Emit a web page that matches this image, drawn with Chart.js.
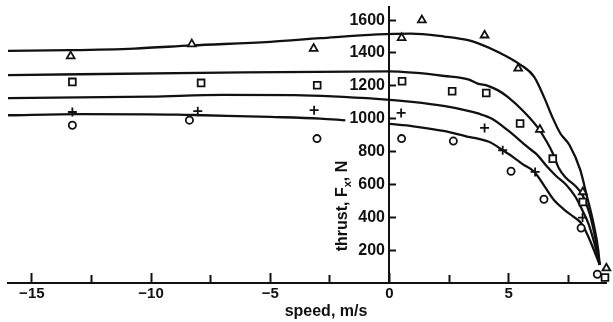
<!DOCTYPE html>
<html><head><meta charset="utf-8">
<script src="https://cdn.jsdelivr.net/npm/chart.js@4"></script>
<style>html,body{margin:0;padding:0;background:#fff}canvas{display:block}</style>
</head><body>
<canvas id="c" width="613" height="322"></canvas>
<script>
// ---- tick values / labels ----
const xMajorTicks = [-15, -10, -5, 0, 5];
const xMajorLabels = ['\u221215', '\u221210', '\u22125', '0', '5'];
const xMinorTicks = [-12.5, -7.5, -2.5, 2.5, 7.5];
const yTicks = [200, 400, 600, 800, 1000, 1200, 1400, 1600];
const yTickLabels = ['200', '400', '600', '800', '1000', '1200', '1400', '1600'];
const xTitle = 'speed, m/s';
const yTitleMain = 'thrust, F';
const yTitleSub = 'x';
const yTitleEnd = ', N';

// ---- fitted curves (speed m/s, thrust N) ----
const triCurveX = [-16, -13.4, -10.7, -8.3, -5, -2.9, -0.5, 0.9, 2.3, 3.3, 3.7, 4.6, 5.5, 6.07, 6.48, 6.83, 7.17, 7.55, 8.0, 8.28, 8.56, 8.76, 8.82];
const triCurveY = [1413, 1417, 1427, 1446, 1468, 1490, 1513, 1518, 1500, 1478, 1460, 1403, 1328, 1255, 1133, 1011, 910, 840, 690, 530, 362, 199, 110];
const sqCurveX = [-16, -7, 0, 1, 2.3, 3.3, 3.7, 4.13, 4.54, 4.96, 5.65, 6.2, 6.6, 6.85, 7.1, 7.4, 7.8, 8.1, 8.4, 8.65, 8.82];
const sqCurveY = [1265, 1281, 1288, 1280, 1260, 1239, 1214, 1200, 1174, 1133, 1041, 950, 860, 790, 700, 640, 590, 535, 420, 260, 110];
const plusCurveX = [-16, -10, -7, -4, -0.4, 0.95, 2.33, 3.3, 3.71, 4.3, 4.96, 5.79, 6.2, 6.6, 7.0, 7.4, 7.8, 8.1, 8.35, 8.6, 8.82];
const plusCurveY = [1125, 1135, 1145, 1143, 1119, 1102, 1076, 1048, 1032, 1000, 930, 828, 780, 710, 650, 600, 525, 440, 360, 240, 110];
const circCurveX = [-16, -13, -8.9, -7.8, -5, -2.9, -1.85, -0.9, 0, 1, 2.33, 3.3, 3.71, 4.2, 4.75, 5.2, 5.6, 6.08, 6.5, 6.9, 7.3, 7.7, 8.04, 8.3, 8.55, 8.82];
const circCurveY = [1021, 1028, 1025, 1021, 1011, 1001, 990, null, 968, 954, 924, 890, 879, 858, 808, 765, 722, 676, 590, 505, 450, 405, 365, 295, 210, 110];

// ---- measured points ----
const triX = [-13.37, -8.29, -3.18, 0.51, 1.36, 3.99, 5.4, 6.31, 8.11, 9.1];
const triY = [1381, 1454, 1427, 1492, 1600, 1508, 1306, 934, 554, 90];
const sqX = [-13.3, -7.9, -3.03, 0.53, 2.63, 4.06, 5.48, 6.85, 8.11, 9.04];
const sqY = [1224, 1218, 1204, 1228, 1167, 1157, 971, 757, 493, 33];
const plusX = [-13.3, -8.04, -3.16, 0.49, 3.99, 4.75, 6.11, 8.10];
const plusY = [1041, 1046, 1052, 1035, 944, 808, 676, 398];
const circX = [-13.3, -8.39, -3.04, 0.51, 2.68, 5.10, 6.48, 8.04, 8.72];
const circY = [960, 991, 879, 879, 864, 680, 510, 335, 53];

const pts = (xs, ys) => xs.map((x, i) => ({x: x, y: ys[i]}));
const INK = '#111';
const FONT = '"Liberation Sans", Arial, sans-serif';

function marker(xs, ys, style, r) {
  return {data: pts(xs, ys), showLine: false, pointStyle: style, pointRadius: r,
    pointBorderWidth: 1.8, pointBorderColor: INK, pointBackgroundColor: '#fff', clip: false};
}
function curve(xs, ys) {
  return {data: pts(xs, ys), showLine: true, pointRadius: 0, borderColor: INK, borderWidth: 2.3,
    cubicInterpolationMode: 'monotone', spanGaps: false, fill: false};
}

const titlePlugin = {
  id: 'titles',
  afterDraw(chart) {
    const ctx = chart.ctx;
    ctx.save();
    ctx.fillStyle = INK;
    ctx.font = 'bold 16px ' + FONT;
    ctx.textAlign = 'center';
    ctx.textBaseline = 'middle';
    ctx.fillText(xTitle, 326, 312);
    // rotated y title
    ctx.translate(347, 206);
    ctx.rotate(-Math.PI / 2);
    ctx.textAlign = 'left';
    ctx.textBaseline = 'alphabetic';
    const mainFont = 'bold 16px ' + FONT, subFont = 'bold 11px ' + FONT;
    ctx.font = mainFont; const w1 = ctx.measureText(yTitleMain).width; const w3 = ctx.measureText(yTitleEnd).width;
    ctx.font = subFont; const w2 = ctx.measureText(yTitleSub).width;
    let x0 = -(w1 + w2 + w3) / 2;
    ctx.font = mainFont; ctx.fillText(yTitleMain, x0, 0); x0 += w1;
    ctx.font = subFont; ctx.fillText(yTitleSub, x0, 4); x0 += w2;
    ctx.font = mainFont; ctx.fillText(yTitleEnd, x0, 0);
    ctx.restore();
  }
};

new Chart(document.getElementById('c'), {
  type: 'scatter',
  data: {
    datasets: [
      marker(triX, triY, 'triangle', 4.5),
      marker(sqX, sqY, 'rect', 4.8),
      marker(plusX, plusY, 'cross', 4.5),
      marker(circX, circY, 'circle', 3.6),
      curve(triCurveX, triCurveY),
      curve(sqCurveX, sqCurveY),
      curve(plusCurveX, plusCurveY),
      curve(circCurveX, circCurveY)
    ]
  },
  options: {
    responsive: false, animation: false, devicePixelRatio: 1,
    layout: {padding: {left: 8, right: 3, top: 7, bottom: 39}},
    plugins: {legend: {display: false}, tooltip: {enabled: false}},
    scales: {
      x: {
        type: 'linear', position: {y: 0}, min: -16, max: 9.1,
        afterBuildTicks: s => { s.ticks = xMajorTicks.map(v => ({value: v})); },
        ticks: {
          callback: v => { const i = xMajorTicks.indexOf(v); return i >= 0 ? xMajorLabels[i] : ''; },
          padding: 13, maxRotation: 0, autoSkip: false, color: INK,
          font: {family: FONT, size: 15, weight: 'bold'}
        },
        grid: {display: true, drawOnChartArea: false, drawTicks: true, tickLength: -11, tickWidth: 2, tickColor: INK, color: INK},
        border: {display: true, width: 2, color: INK}
      },
      x2: {
        type: 'linear', axis: 'x', position: {y: 0}, min: -16, max: 9.1,
        afterBuildTicks: s => { s.ticks = xMinorTicks.map(v => ({value: v})); },
        ticks: {display: false},
        grid: {display: true, drawOnChartArea: false, drawTicks: true, tickLength: -8, tickWidth: 2, tickColor: INK, color: INK},
        border: {display: false}
      },
      y: {
        type: 'linear', position: {x: 0}, min: 0, max: 1680,
        afterBuildTicks: s => { s.ticks = yTicks.map(v => ({value: v})); },
        ticks: {
          callback: v => { const i = yTicks.indexOf(v); return i >= 0 ? yTickLabels[i] + ' ' : ''; },
          padding: 0, color: INK,
          font: {family: FONT, size: 16, weight: 'bold', lineHeight: 0.8}
        },
        grid: {display: true, drawOnChartArea: false, drawTicks: true, tickLength: -8, tickWidth: 2, tickColor: INK, color: INK},
        border: {display: true, width: 2, color: INK}
      }
    }
  },
  plugins: [titlePlugin]
});
</script>
</body></html>
